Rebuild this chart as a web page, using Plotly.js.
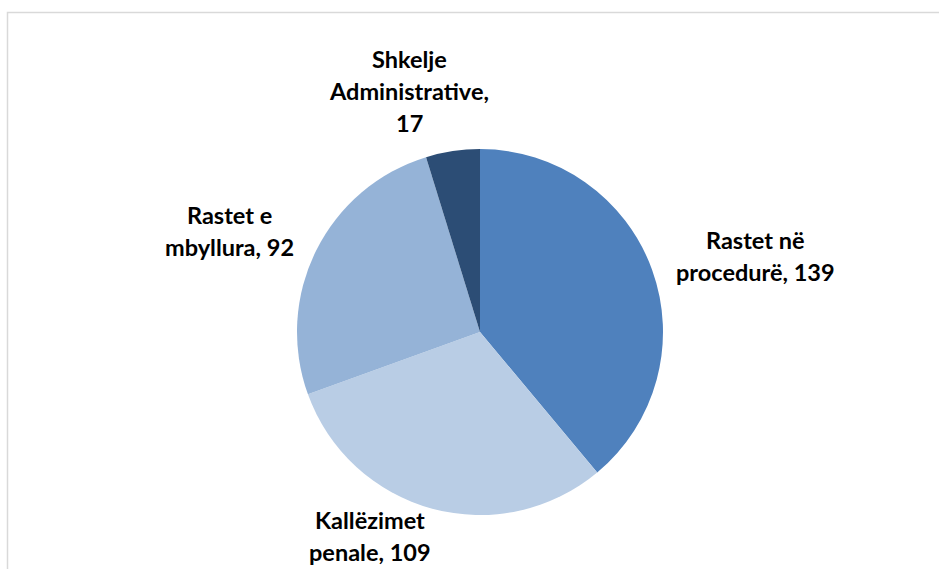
<!DOCTYPE html>
<html>
<head>
<meta charset="utf-8">
<script src="https://cdn.plot.ly/plotly-3.0.1.min.js"></script>
<style>html,body{margin:0;padding:0;background:#fff;}#chart{width:939px;height:569px;}</style>
</head>
<body>
<div id="chart"></div>
<script>
// Data
var categories = ["Rastet në procedurë", "Kallëzimet penale", "Rastet e mbyllura", "Shkelje Administrative"];
var values = [139, 109, 92, 17];
var colors = ["#4F81BD", "#B9CDE5", "#95B3D7", "#2C4D75"];

// Label placement (pixel centres of each label block)
var labelPos = [[755, 256], [370, 536], [229, 231], [409, 91]];

var W = 939, H = 569;
var lineGap = 32;

function wrap(text, maxChars) {
  var words = text.split(" "), lines = [], cur = "";
  words.forEach(function (w) {
    if (cur === "") cur = w;
    else if ((cur + " " + w).length <= maxChars) cur += " " + w;
    else { lines.push(cur); cur = w; }
  });
  if (cur) lines.push(cur);
  return lines;
}

var annotations = [];
categories.forEach(function (c, i) {
  var lines = wrap(c + ", " + values[i], 15);
  var n = lines.length;
  lines.forEach(function (ln, j) {
    var py = labelPos[i][1] + (j - (n - 1) / 2) * lineGap;
    annotations.push({
      text: ln, showarrow: false, xref: "paper", yref: "paper",
      x: labelPos[i][0] / W, y: 1 - py / H, xanchor: "center", yanchor: "middle",
      font: {family: "Lato, 'Open Sans', sans-serif", size: 23.5, color: "#000", weight: "bold"}
    });
  });
});

var trace = {
  type: "pie",
  labels: categories,
  values: values,
  sort: false,
  direction: "clockwise",
  rotation: 0,
  textinfo: "none",
  hoverinfo: "label+value",
  marker: {colors: colors, line: {width: 0}},
  domain: {x: [297 / W, 663 / W], y: [1 - 515 / H, 1 - 149 / H]},
  showlegend: false
};

var layout = {
  width: W, height: H,
  margin: {l: 0, r: 0, t: 0, b: 0},
  paper_bgcolor: "#fff",
  showlegend: false,
  annotations: annotations,
  shapes: [{
    type: "rect", xref: "paper", yref: "paper",
    x0: 7.5 / W, x1: 1.05, y0: -0.05, y1: 1 - 12.5 / H,
    line: {color: "#D9D9D9", width: 1.5}, fillcolor: "rgba(0,0,0,0)", layer: "below"
  }]
};

Plotly.newPlot("chart", [trace], layout, {displayModeBar: false, staticPlot: true});
</script>
</body>
</html>
